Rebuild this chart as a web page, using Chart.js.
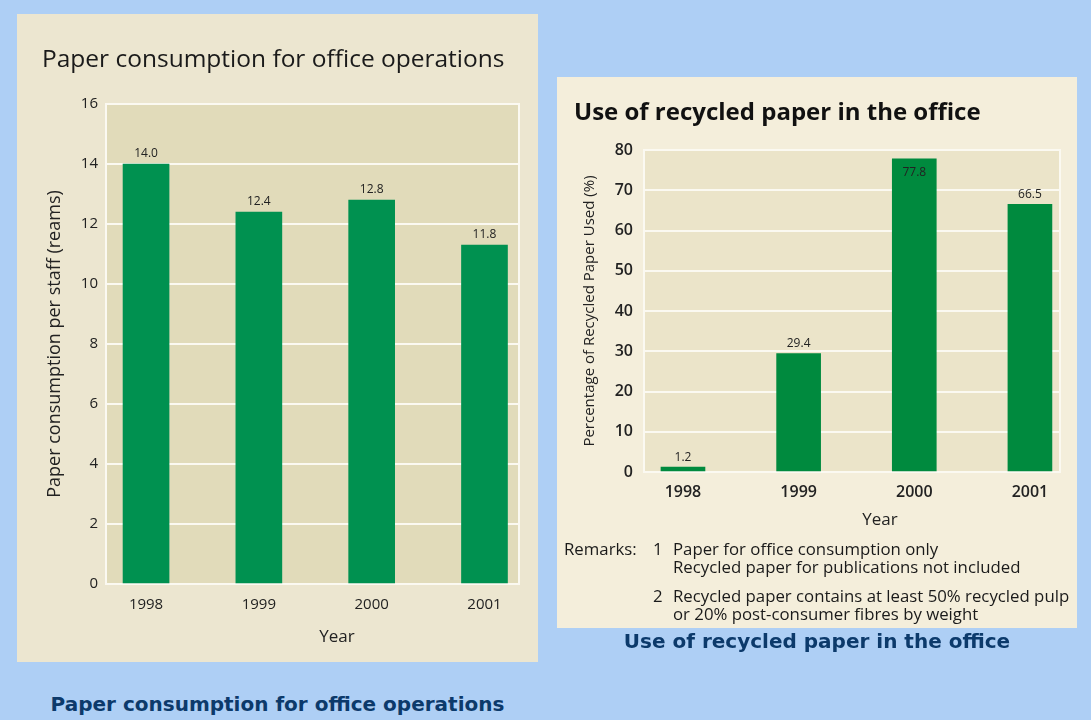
<!DOCTYPE html>
<html>
<head>
<meta charset="utf-8">
<script src="https://cdn.jsdelivr.net/npm/chart.js@4"></script>
<style>
  body { margin: 0; width: 1091px; height: 720px; background: #aecff5; position: relative; overflow: hidden; font-family: "Open Sans", sans-serif; }
  .panel { position: absolute; }
  #left { left: 17px; top: 14px; width: 521px; height: 648px; background: #ece6d0; }
  #right { left: 557px; top: 77px; width: 520px; height: 551px; background: #f4eedb; }
  canvas { display: block; }
  .caption { position: absolute; text-align: center; font: bold 20px "DejaVu Sans", sans-serif; line-height: 24px; color: #0c3a6b; }
  .axis-name { position: absolute; width: 100px; margin-left: -50px; text-align: center; font-size: 17px; line-height: 20px; color: #222; }
  .remarks { position: absolute; left: 7px; top: 463px; font-size: 16.8px; line-height: 18px; color: #1a1a1a; }
  .remarks div { position: relative; }
  .remarks .head { position: absolute; left: 0; top: 0; }
  .remarks .num { position: absolute; left: 89px; }
  .remarks .txt { margin-left: 109px; white-space: nowrap; }
</style>
</head>
<body>
<div id="left" class="panel">
  <canvas id="consumptionChart" width="521" height="648"></canvas>
  <div class="axis-name" style="left: 320px; top: 612px">Year</div>
</div>
<div id="right" class="panel">
  <canvas id="recycledChart" width="520" height="465"></canvas>
  <div class="axis-name" style="left: 323px; top: 432px">Year</div>
  <div class="remarks">
    <span class="head">Remarks:</span>
    <div><span class="num">1</span><div class="txt">Paper for office consumption only<br>Recycled paper for publications not included</div></div>
    <div style="margin-top: 11px"><span class="num">2</span><div class="txt">Recycled paper contains at least 50% recycled pulp<br>or 20% post-consumer fibres by weight</div></div>
  </div>
</div>
<div class="caption" style="left: 557px; width: 520px; top: 629px">Use of recycled paper in the office</div>
<div class="caption" style="left: 17px; width: 521px; top: 692px">Paper consumption for office operations</div>

<script>
const years = ["1998", "1999", "2000", "2001"];
const consumption = [14.0, 12.4, 12.8, 11.3];
const consumptionLabels = ["14.0", "12.4", "12.8", "11.8"];
const recycled = [1.2, 29.4, 77.8, 66.5];
const recycledLabels = ["1.2", "29.4", "77.8", "66.5"];
const consumptionTicks = [0, 16, 2];
const recycledTicks = [0, 80, 10];

const plotFrame = {
  id: "plotFrame",
  beforeDraw(chart, args, opts) {
    const { ctx, chartArea: a } = chart;
    ctx.save();
    ctx.fillStyle = opts.color;
    ctx.fillRect(a.left, a.top, a.width, a.height);
    ctx.restore();
  },
  beforeDatasetsDraw(chart) {
    const { ctx, chartArea: a } = chart;
    ctx.save();
    ctx.strokeStyle = "#fbf9f1";
    ctx.lineWidth = 2;
    ctx.strokeRect(a.left, a.top, a.width, a.height);
    ctx.restore();
  },
};

const valueLabels = {
  id: "valueLabels",
  afterDatasetsDraw(chart, args, opts) {
    const { ctx, chartArea } = chart;
    const bars = chart.getDatasetMeta(0).data;
    ctx.save();
    ctx.font = opts.font;
    ctx.fillStyle = "#222";
    ctx.textAlign = "center";
    ctx.textBaseline = "middle";
    bars.forEach((bar, i) => {
      // no room above the bar -> put the label just inside it
      const above = bar.y - 10;
      const y = above - 8 < chartArea.top ? bar.y + 14 : above;
      ctx.fillText(opts.texts[i], bar.x, y);
    });
    ctx.restore();
  },
};

function yearAxis(range, tickFont, tickPad, height) {
  return {
    type: "linear",
    offset: false,
    min: range[0],
    max: range[1],
    afterBuildTicks: (s) => { s.ticks = years.map((y) => ({ value: +y })); },
    afterFit: (s) => { s.height = height; },
    grid: { display: false, drawTicks: false, offset: false },
    border: { display: false },
    ticks: { color: "#222", font: tickFont, padding: tickPad, callback: (v) => String(v) },
  };
}

function createConsumptionChart() {
  const ctx = document.getElementById("consumptionChart");
  return new Chart(ctx, {
    type: "bar",
    data: {
      labels: years,
      datasets: [{ data: consumption, backgroundColor: "#009150", barThickness: 46 }],
    },
    plugins: [plotFrame, valueLabels],
    options: {
      responsive: false,
      animation: false,
      layout: { padding: { left: 25, right: 19, top: 0, bottom: 0 } },
      plugins: {
        legend: { display: false },
        tooltip: { enabled: false },
        plotFrame: { color: "#e1dbba" },
        valueLabels: { texts: consumptionLabels, font: "12px 'Open Sans'" },
        title: {
          display: true,
          align: "start",
          text: "Paper consumption for office operations",
          color: "#1a1a1a",
          font: { family: "Open Sans", size: 24.5, weight: "normal", lineHeight: 1 },
          padding: { top: 34, bottom: 31.5 },
        },
      },
      scales: {
        x: yearAxis([1997.645, 2001.306], { family: "Open Sans", size: 15 }, 12, 78),
        y: {
          min: consumptionTicks[0],
          max: consumptionTicks[1],
          afterFit: (s) => { s.width = 64; },
          grid: { color: "#fbf9f1", lineWidth: 2, drawTicks: false },
          border: { display: false },
          ticks: { stepSize: consumptionTicks[2], color: "#222", font: { family: "Open Sans", size: 15 }, padding: 8 },
          title: { display: true, text: "Paper consumption per staff (reams)", color: "#222", font: { family: "Open Sans", size: 18 }, padding: { top: 2, bottom: 0 } },
        },
      },
    },
  });
}

function createRecycledChart() {
  const ctx = document.getElementById("recycledChart");
  return new Chart(ctx, {
    type: "bar",
    data: {
      labels: years,
      datasets: [{ data: recycled, backgroundColor: "#008a3e", barThickness: 44 }],
    },
    plugins: [plotFrame, valueLabels],
    options: {
      responsive: false,
      animation: false,
      layout: { padding: { left: 17, right: 17, top: 0, bottom: 0 } },
      plugins: {
        legend: { display: false },
        tooltip: { enabled: false },
        plotFrame: { color: "#ebe4c9" },
        valueLabels: { texts: recycledLabels, font: "12px 'Open Sans'" },
        title: {
          display: true,
          align: "start",
          text: "Use of recycled paper in the office",
          color: "#111",
          font: { family: "Open Sans", size: 24, weight: "bold", lineHeight: 1 },
          padding: { top: 24, bottom: 25 },
        },
      },
      scales: {
        x: yearAxis([1997.663, 2001.26], { family: "Open Sans", size: 16, weight: "600" }, 11, 70),
        y: {
          min: recycledTicks[0],
          max: recycledTicks[1],
          afterFit: (s) => { s.width = 70; },
          grid: { color: "#fbf9f1", lineWidth: 2, drawTicks: false },
          border: { display: false },
          ticks: { stepSize: recycledTicks[2], color: "#222", font: { family: "Open Sans", size: 16, weight: "600" }, padding: 11 },
          title: { display: true, text: "Percentage of Recycled Paper Used (%)", color: "#222", font: { family: "Open Sans", size: 15 }, padding: { top: 7, bottom: 0 } },
        },
      },
    },
  });
}

createConsumptionChart();
createRecycledChart();
</script>
</body>
</html>
